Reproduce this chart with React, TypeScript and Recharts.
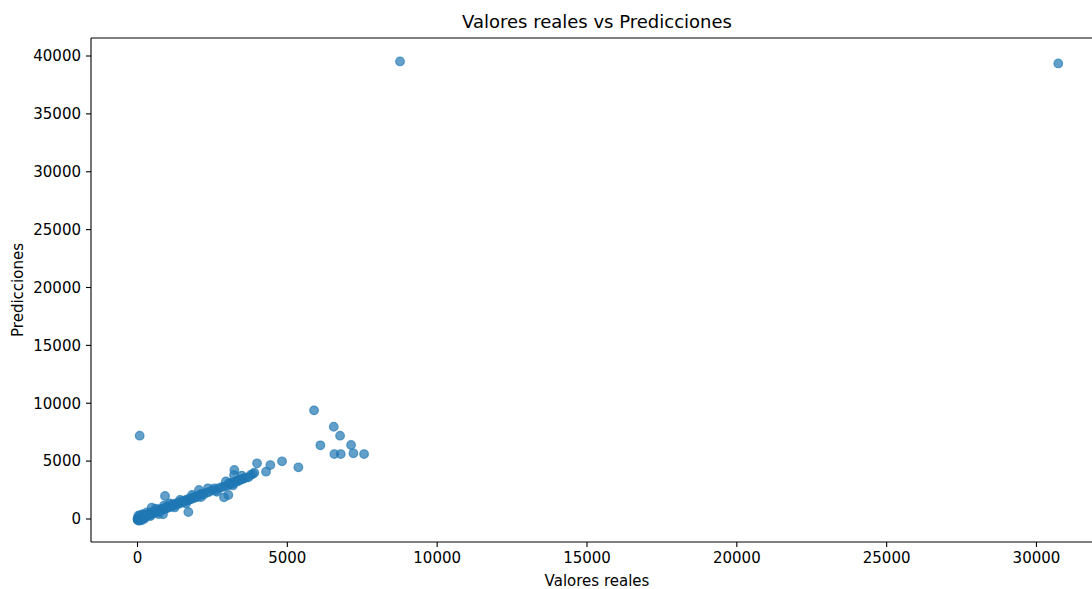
import { ScatterChart, Scatter, XAxis, YAxis, ReferenceLine, Label } from 'recharts';

// Valores reales (eje X) y predicciones del modelo (eje Y), punto a punto
const valoresReales = [
  0, 5, 10, 15, 20, 30, 40, 50, 60, 70, 80, 90, 100, 110, 120, 130, 140, 150, 160, 170,
  180, 190, 200, 210, 220, 240, 250, 270, 290, 300, 320, 340, 360, 380, 400, 420, 440, 460,
  474, 480, 500, 540, 560, 590, 620, 650, 680, 710, 740, 770, 800, 830, 851, 860, 900, 918,
  940, 980, 1020, 1060, 1100, 1140, 1180, 1220, 1260, 1300, 1350, 1400, 1450, 1500, 1550,
  1600, 1650, 1697, 1700, 1750, 1800, 1850, 1900, 1950, 2000, 2053, 2080, 2150, 2200, 2310,
  2400, 2500, 2564, 2600, 2700, 2800, 2887, 2900, 3000, 3031, 3050, 3100, 3150, 3200, 3221,
  3232, 3250, 3300, 3350, 3400, 3450, 3500, 3550, 3600, 3778, 3850, 3900, 3989, 4289, 4433,
  4823, 5368, 5892, 6102, 6549, 6569, 6760, 6783, 7127, 7204, 7561, 73, 8760, 30727,
  25, 45, 85, 135, 175, 230, 310, 430, 610, 700, 880, 1080, 1240, 1420, 1620, 1820, 2120,
  2350, 2650, 2950, 3180, 3480, 3700,
];

const predicciones = [
  -50, 20, -80, 60, 10, -30, 90, 40, -60, 120, 30, 150, 70, -20, 180, 100, 60, 210, 130, 90,
  240, 170, 120, 260, 200, 150, 300, 230, 320, 260, 380, 300, 410, 350, 460, 390, 520, 430,
  976, 560, 480, 600, 520, 640, 700, 600, 760, 680, 820, 740, 860, 780, 406, 920, 840, 1986,
  1000, 920, 1100, 1020, 1180, 1080, 1260, 1160, 1320, 1250, 1400, 1330, 1500, 1420, 1580,
  1520, 1700, 605, 1620, 1780, 1720, 1880, 1820, 1960, 1900, 2504, 2100, 2200, 2100, 2271,
  2350, 2500, 2651, 2450, 2650, 2750, 1874, 2800, 2900, 2073, 3100, 3000, 3150, 3050, 3800,
  4232, 3200, 3300, 3250, 3350, 3400, 3450, 3500, 3550, 3800, 3900, 4000, 4810, 4085, 4663,
  4983, 4465, 9387, 6365, 7971, 5613, 7195, 5613, 6391, 5674, 5613, 7195, 39530, 39355,
  280, -150, 330, -120, 420, 20, 560, 250, 900, 420, 1150, 1350, 1000, 1650, 1350, 2080, 1900,
  2650, 2350, 3250, 2900, 3750, 3600,
];

const xTicks = [0, 5000, 10000, 15000, 20000, 25000, 30000];
const yTicks = [0, 5000, 10000, 15000, 20000, 25000, 30000, 35000, 40000];

const X_MIN = -1552;
const X_MAX = 31853;
const Y_MIN = -1987;
const Y_MAX = 41555;

const puntos = valoresReales.map((x, i) => ({ x, y: predicciones[i] }));

const FONT = '"DejaVu Sans", sans-serif';
const COLOR = '#1f77b4';

const Punto = (props: any) => (
  <circle
    cx={props.cx}
    cy={props.cy}
    r={4.3}
    fill={COLOR}
    fillOpacity={0.7}
    stroke={COLOR}
    strokeOpacity={0.7}
    strokeWidth={1.2}
  />
);

const App = () => {
  return (
    <div style={{ position: 'absolute', left: 0, top: 0, width: 1092, height: 589, background: '#fff', fontFamily: FONT }}>
      <div
        style={{
          position: 'absolute',
          left: 0,
          width: 1194,
          top: 10,
          textAlign: 'center',
          fontSize: 18,
          color: '#000',
          lineHeight: '24px',
        }}
      >
        Valores reales vs Predicciones
      </div>
      <ScatterChart width={1092} height={589} margin={{ top: 38, right: 0, bottom: 0, left: 10 }}>
        <XAxis
          type="number"
          dataKey="x"
          domain={[X_MIN, X_MAX]}
          ticks={xTicks}
          allowDataOverflow
          height={47}
          tickSize={5}
          tickMargin={5}
          axisLine={{ stroke: '#000', strokeWidth: 1.1 }}
          tickLine={{ stroke: '#000', strokeWidth: 1.1 }}
          tick={{ fill: '#000', fontSize: 15, fontFamily: FONT }}
        >
          <Label
            content={() => (
              <text x={597} y={586} textAnchor="middle" fontSize={15} fontFamily={FONT} fill="#000">
                Valores reales
              </text>
            )}
          />
        </XAxis>
        <YAxis
          type="number"
          dataKey="y"
          domain={[Y_MIN, Y_MAX]}
          ticks={yTicks}
          allowDataOverflow
          width={81}
          tickSize={5}
          tickMargin={5}
          axisLine={{ stroke: '#000', strokeWidth: 1.1 }}
          tickLine={{ stroke: '#000', strokeWidth: 1.1 }}
          tick={{ fill: '#000', fontSize: 15, fontFamily: FONT }}
        >
          <Label
            content={() => (
              <text
                x={18}
                y={290}
                transform="rotate(-90 18 290)"
                textAnchor="middle"
                dominantBaseline="central"
                fontSize={15}
                fontFamily={FONT}
                fill="#000"
              >
                Predicciones
              </text>
            )}
          />
        </YAxis>
        <ReferenceLine y={Y_MAX} stroke="#000" strokeWidth={1.1} />
        <Scatter data={puntos} shape={Punto} isAnimationActive={false} />
      </ScatterChart>
    </div>
  );
};

export default App;
